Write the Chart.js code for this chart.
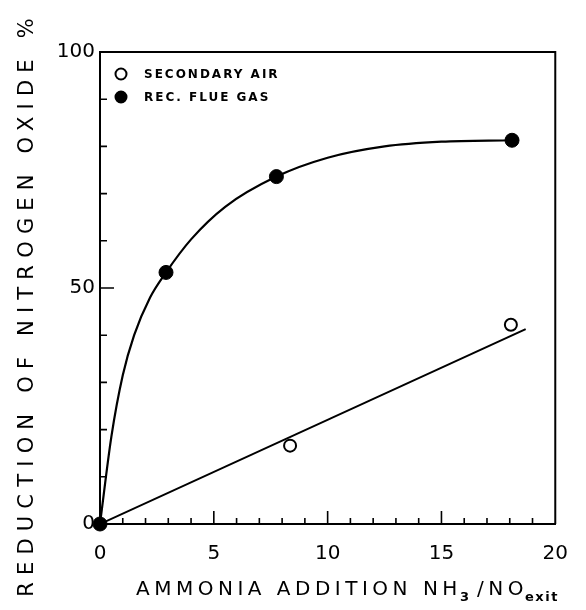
<!DOCTYPE html>
<html>
<head>
<meta charset="utf-8">
<script src="https://cdn.jsdelivr.net/npm/chart.js@4/dist/chart.umd.min.js"></script>
<style>
html,body{margin:0;padding:0;background:#fff;}
#wrap{width:586px;height:610px;position:relative;}
</style>
</head>
<body>
<div id="wrap"><canvas id="c" width="586" height="610"></canvas></div>
<script>
// ---- data ----
const secondaryAirX = [-0.5, 8.35, 18.05];
const secondaryAirY = [0, 16.6, 42.2];
const secondaryFitX = [0, 18.7];
const secondaryFitY = [0, 41.3];
const flueGasX = [0, 2.9, 7.75, 18.1];
const flueGasY = [0, 53.3, 73.6, 81.3];
const flueCurveX = [0, 0.5, 1.0, 1.5, 2.2, 2.9, 4.0, 5.5, 7.75, 10.0, 12.5, 15.0, 18.1];
const flueCurveY = [0, 18.5, 31.5, 40, 48, 53.3, 60.3, 67.2, 73.6, 77.6, 80.0, 81.0, 81.3];
const xTickLabels = [0, 5, 10, 15, 20];
const yTickLabels = [0, 50, 100];
const legendLabels = ['SECONDARY AIR', 'REC. FLUE GAS'];
const yTitle = 'REDUCTION OF NITROGEN OXIDE %';

function pts(xs, ys){ return xs.map((x,i)=>({x:x, y:ys[i]})); }

const FONT = "'DejaVu Sans', sans-serif";

const decorPlugin = {
  id: 'decor',
  afterDraw(chart){
    const ctx = chart.ctx;
    const a = chart.chartArea;
    const xs = chart.scales.x, ys = chart.scales.y;
    ctx.save();
    ctx.strokeStyle = '#000';
    ctx.lineWidth = 2;
    // box top and right
    ctx.beginPath();
    ctx.moveTo(a.left, a.top); ctx.lineTo(a.right, a.top); ctx.lineTo(a.right, a.bottom);
    ctx.stroke();
    // inward ticks
    ctx.lineWidth = 1.6;
    ctx.beginPath();
    for (let v = 1; v < 20; v++) {
      const px = xs.getPixelForValue(v);
      const len = (v % 5 === 0) ? 13 : 6;
      ctx.moveTo(px, a.bottom); ctx.lineTo(px, a.bottom - len);
    }
    for (let v = 10; v < 100; v += 10) {
      const py = ys.getPixelForValue(v);
      const len = (v % 50 === 0) ? 14 : 7;
      ctx.moveTo(a.left, py); ctx.lineTo(a.left + len, py);
    }
    ctx.stroke();

    // legend inside plot
    const ds = chart.data.datasets;
    const items = [ds[0], ds[2]];
    ctx.font = "bold 12px " + FONT;
    ctx.letterSpacing = '2px';
    ctx.textBaseline = 'middle';
    ctx.textAlign = 'left';
    items.forEach((d, i) => {
      const cy = a.top + 22 + i * 23;
      const cx = a.left + 21;
      ctx.beginPath();
      ctx.arc(cx, cy, 5.5, 0, Math.PI * 2);
      ctx.fillStyle = d.backgroundColor;
      ctx.fill();
      ctx.lineWidth = 2;
      ctx.strokeStyle = d.borderColor;
      ctx.stroke();
      ctx.fillStyle = '#000';
      ctx.fillText(legendLabels[i], a.left + 44, cy + 1);
    });

    // y title
    ctx.save();
    ctx.translate(28, 304);
    ctx.rotate(-Math.PI / 2);
    ctx.font = "21px " + FONT;
    ctx.letterSpacing = '7.2px';
    ctx.textAlign = 'center';
    ctx.textBaseline = 'middle';
    ctx.fillStyle = '#000';
    ctx.fillText(yTitle, 0, 0);
    ctx.restore();

    // x title with subscripts
    ctx.fillStyle = '#000';
    ctx.textBaseline = 'alphabetic';
    ctx.textAlign = 'left';
    let x = 136;
    const base = 595;
    ctx.font = "20px " + FONT;
    ctx.letterSpacing = '4.5px';
    const p1 = 'AMMONIA ADDITION NH';
    ctx.fillText(p1, x, base); x += ctx.measureText(p1).width;
    ctx.font = "bold 13px " + FONT;
    ctx.letterSpacing = '1px';
    ctx.fillText('3', x - 2, base + 6); x += ctx.measureText('3').width + 5;
    ctx.font = "20px " + FONT;
    ctx.letterSpacing = '4.5px';
    const p2 = '/NO';
    ctx.fillText(p2, x, base); x += ctx.measureText(p2).width - 3;
    ctx.font = "bold 13px " + FONT;
    ctx.letterSpacing = '1.6px';
    ctx.fillText('exit', x, base + 6);
    ctx.restore();
  }
};

new Chart(document.getElementById('c'), {
  type: 'scatter',
  data: {
    datasets: [
      { label: legendLabels[0], data: pts(secondaryAirX, secondaryAirY), showLine: false,
        pointRadius: 6, pointBorderWidth: 2, borderColor: '#000', backgroundColor: '#fff', clip: false, order: 0 },
      { label: 'fit', data: pts(secondaryFitX, secondaryFitY), showLine: true, pointRadius: 0,
        borderColor: '#000', borderWidth: 2, order: 2 },
      { label: legendLabels[1], data: pts(flueGasX, flueGasY), showLine: false,
        pointRadius: 7, pointBorderWidth: 1, borderColor: '#000', backgroundColor: '#000', clip: false, order: 0 },
      { label: 'curve', data: pts(flueCurveX, flueCurveY), showLine: true, pointRadius: 0,
        borderColor: '#000', borderWidth: 2.2, cubicInterpolationMode: 'monotone', order: 2 }
    ]
  },
  options: {
    responsive: false,
    animation: false,
    events: [],
    layout: { padding: { left: 0, top: 52, right: 29, bottom: 0 } },
    plugins: { legend: { display: false }, tooltip: { enabled: false } },
    scales: {
      x: {
        type: 'linear', min: 0, max: 20,
        grid: { display: false, drawTicks: false },
        border: { display: true, color: '#000', width: 2 },
        afterFit(s){ s.height = 86; },
        afterBuildTicks(s){ s.ticks = xTickLabels.map(v => ({ value: v })); },
        ticks: { color: '#000', padding: 18, font: { family: FONT, size: 20 }, maxRotation: 0 }
      },
      y: {
        type: 'linear', min: 0, max: 100,
        grid: { display: false, drawTicks: false },
        border: { display: true, color: '#000', width: 2 },
        afterFit(s){ s.width = 100; },
        afterBuildTicks(s){ s.ticks = yTickLabels.map(v => ({ value: v })); },
        ticks: { color: '#000', padding: 5, font: { family: FONT, size: 20 } }
      }
    }
  },
  plugins: [decorPlugin]
});
</script>
</body>
</html>
